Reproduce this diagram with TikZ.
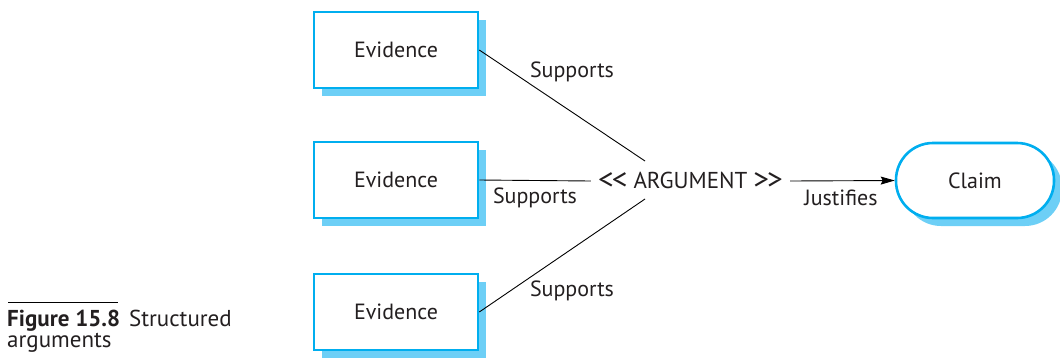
\documentclass[tikz,border=0pt]{standalone}
\usepackage{fontspec}
\setmainfont{PT Sans}
\usetikzlibrary{shadows,arrows.meta}
\definecolor{boxblue}{HTML}{00AEEF}
\definecolor{shadowblue}{HTML}{6DCFF6}
\definecolor{txt}{HTML}{231F20}
\tikzset{
  evbox/.style={draw=boxblue, line width=2.6pt, fill=white, minimum width=164pt, minimum height=76pt, text=txt,
    drop shadow={shadow xshift=8pt, shadow yshift=-8pt, fill=shadowblue, opacity=1}, font=\fontsize{22}{26}\selectfont},
  claimbox/.style={draw=boxblue, line width=2.6pt, fill=white, minimum width=158pt, minimum height=75pt, text=txt,
    rounded corners=37pt,
    drop shadow={shadow xshift=8pt, shadow yshift=-8pt, fill=shadowblue, opacity=1}, font=\fontsize{22}{26}\selectfont},
  lbl/.style={font=\fontsize{22}{26}\selectfont, inner sep=0pt, text=txt},
  conn/.style={draw=black, line width=0.9pt},
}
\begin{document}
\begin{tikzpicture}[x=1pt,y=-1pt]
\useasboundingbox (0,0) rectangle (1060,362);
\node[evbox] (ev1) at (396,50) {Evidence};
\node[evbox] (ev2) at (396,180) {Evidence};
\node[evbox] (ev3) at (396,312) {Evidence};
\node[claimbox] (claim) at (975,180.5) {Claim};
\node[lbl, font=\fontsize{23}{26}\selectfont] (arg) at (690.5,181) {\raisebox{-1pt}{\scalebox{1.35}[1.3]{<\kern-1.5pt<}}\hspace{6pt}ARGUMENT\hspace{6pt}\raisebox{-1pt}{\scalebox{1.35}[1.3]{>\kern-1.5pt>}}};
\coordinate (t1) at (645,161);
\coordinate (t3) at (645,199);
\draw[conn] (ev1.east) -- (t1);
\draw[conn] (ev3.east) -- (t3);
\draw[conn] (ev2.east) -- ([xshift=-7pt]arg.west);
\draw[conn,-{Stealth[length=14pt,width=8pt,inset=2pt]}] ([xshift=7pt]arg.east) -- (claim.west);
\node[lbl] (s1) at (572,72) {Supports};
\node[lbl] (s2) at (535,198) {Supports};
\node[lbl] (s3) at (572,291) {Supports};
\node[lbl] (j) at (841,198) {Justifies};
\coordinate (r1) at (8,302);
\coordinate (r2) at (118,302);
\draw[line width=0.9pt] (r1) -- (r2);
\node[lbl, anchor=west, font=\fontsize{23}{26}\selectfont] (cap1) at (7,321) {\textbf{Figure 15.8}\hspace{9pt}Structured};
\node[lbl, anchor=west, font=\fontsize{23}{26}\selectfont] (cap2) at (7,343) {arguments};
\end{tikzpicture}
\end{document}
